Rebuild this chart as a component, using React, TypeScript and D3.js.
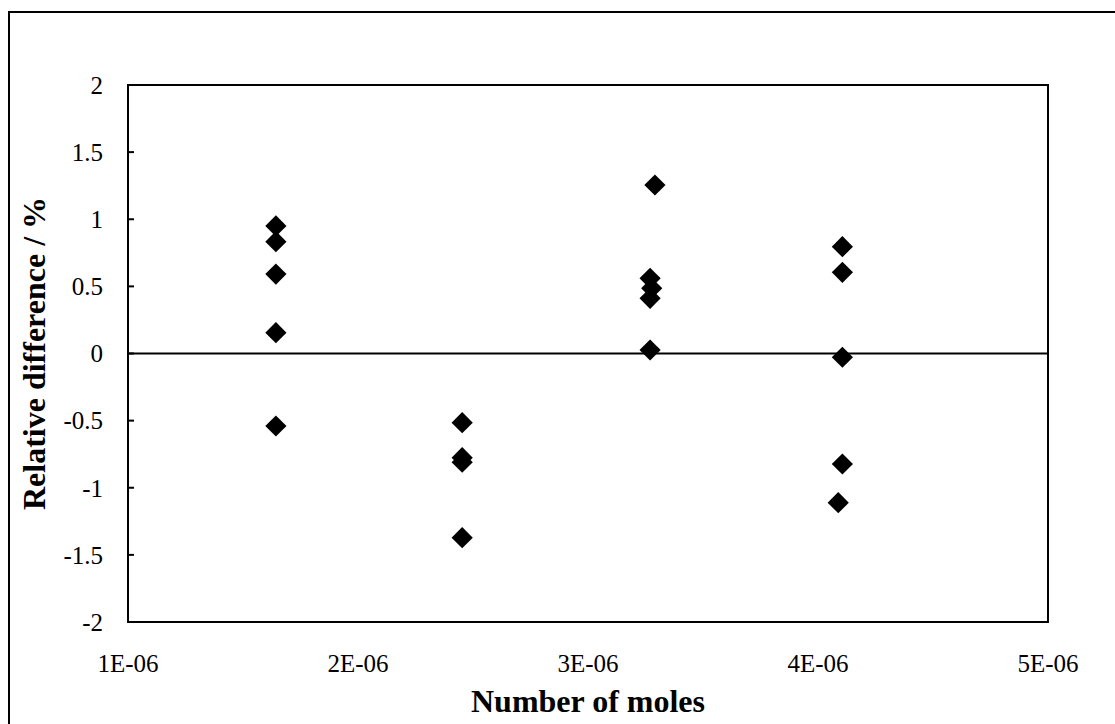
import React from 'react';
import * as d3 from 'd3';

// number of moles (x) and relative difference in % (y)
const moles = [
  1.643e-6, 1.643e-6, 1.643e-6, 1.643e-6, 1.643e-6,
  2.453e-6, 2.453e-6, 2.453e-6, 2.453e-6,
  3.291e-6, 3.270e-6, 3.277e-6, 3.270e-6, 3.270e-6,
  4.106e-6, 4.106e-6, 4.106e-6, 4.106e-6, 4.088e-6,
];
const relDiff = [
  0.95, 0.833, 0.592, 0.155, -0.54,
  -0.515, -0.776, -0.81, -1.372,
  1.255, 0.56, 0.486, 0.411, 0.026,
  0.796, 0.605, -0.028, -0.823, -1.111,
];
const xTicks = [1e-6, 2e-6, 3e-6, 4e-6, 5e-6];
const xTickLabels = ['1E-06', '2E-06', '3E-06', '4E-06', '5E-06'];
const yTicks = [2, 1.5, 1, 0.5, 0, -0.5, -1, -1.5, -2];

const W = 1115;
const H = 724;
const plot = { left: 128, right: 1048, top: 85, bottom: 622 };
const font = '"Times New Roman", "Liberation Serif", serif';

const App = () => {
  const x = d3.scaleLinear().domain([1e-6, 5e-6]).range([plot.left, plot.right]);
  const y = d3.scaleLinear().domain([-2, 2]).range([plot.bottom, plot.top]);
  const diamond = d3.symbol().type(d3.symbolSquare).size(15 * 15)();

  const points = moles.map((m, i) => ({ m, v: relDiff[i] }));

  return (
    <svg
      width={W}
      height={H}
      style={{ position: 'absolute', left: 0, top: 0, background: '#fff' }}
      fontFamily={font}
    >
      {/* outer chart border */}
      <rect x={9} y={12} width={W} height={H} fill="none" stroke="#000" strokeWidth={2} />

      {/* zero line (the x axis crossing) */}
      <line x1={plot.left} x2={plot.right} y1={y(0)} y2={y(0)} stroke="#000" strokeWidth={2} />

      {/* y ticks (inside) and labels */}
      {yTicks.map(t => (
        <g key={t}>
          <line x1={plot.left} x2={plot.left + 6} y1={y(t)} y2={y(t)} stroke="#000" strokeWidth={2} />
          <text x={103} y={y(t)} dy="0.35em" textAnchor="end" fontSize={25}>{t}</text>
        </g>
      ))}

      {/* x labels */}
      {xTicks.map((t, i) => (
        <text key={t} x={x(t)} y={672} textAnchor="middle" fontSize={25}>{xTickLabels[i]}</text>
      ))}

      {/* plot area frame */}
      <rect
        x={plot.left}
        y={plot.top}
        width={plot.right - plot.left}
        height={plot.bottom - plot.top}
        fill="none"
        stroke="#000"
        strokeWidth={2}
      />

      {/* markers */}
      {points.map((p, i) => (
        <path
          key={i}
          d={diamond}
          transform={`translate(${x(p.m)},${y(p.v)}) rotate(45)`}
          fill="#000"
        />
      ))}

      {/* axis titles */}
      <text x={(plot.left + plot.right) / 2} y={712} textAnchor="middle" fontSize={32} fontWeight="bold">
        Number of moles
      </text>
      <text
        transform={`translate(45,${(plot.top + plot.bottom) / 2}) rotate(-90)`}
        textAnchor="middle"
        fontSize={32}
        fontWeight="bold"
      >
        Relative difference / %
      </text>
    </svg>
  );
};

export default App;
